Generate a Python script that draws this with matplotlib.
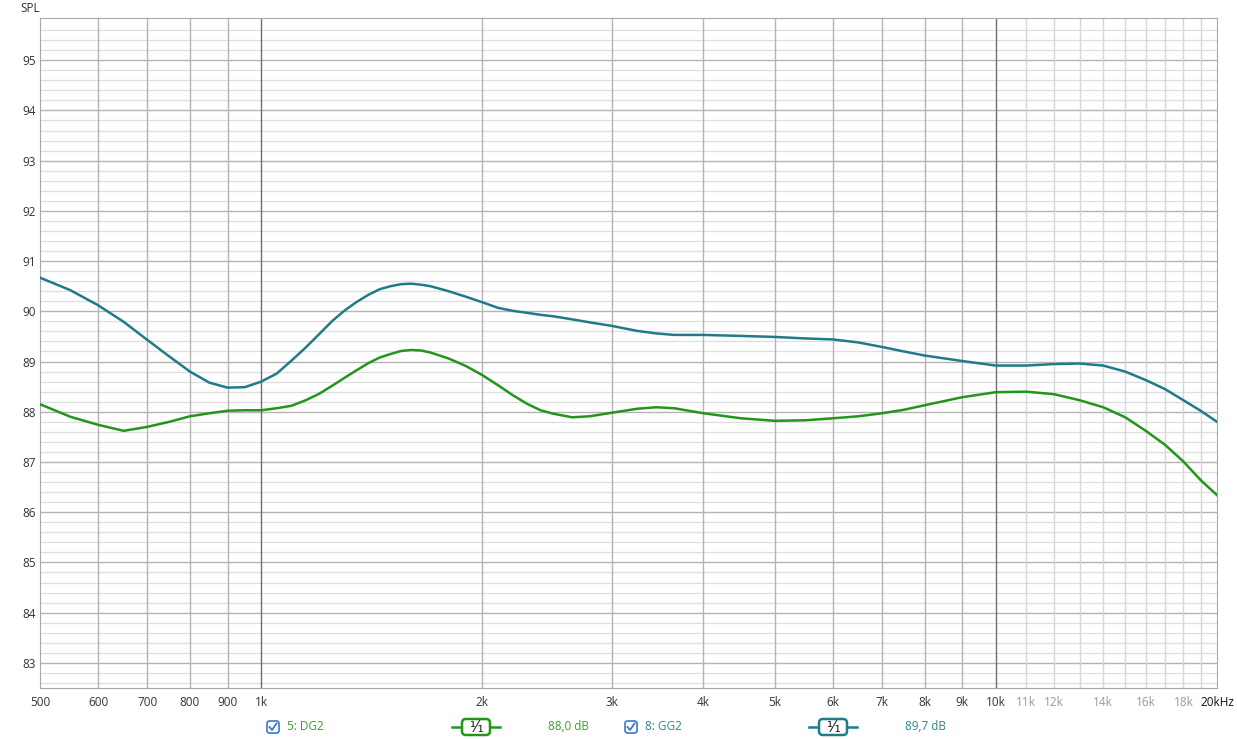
import matplotlib.pyplot as plt
from matplotlib.patches import FancyBboxPatch

plt.rcParams['font.family'] = ['Open Sans', 'DejaVu Sans']

# frequency (Hz) and SPL (dB)
freq = [500, 550, 600, 650, 700, 750, 800, 850, 900, 950,
        1000, 1050, 1100, 1150, 1200, 1250, 1300, 1350, 1400, 1450,
        1500, 1550, 1600, 1650, 1700, 1800, 1900, 2000, 2100, 2200,
        2300, 2400, 2500, 2650, 2800, 3000, 3250, 3450, 3650, 4000,
        4500, 5000, 5500, 6000, 6500, 7000, 7500, 8000, 9000, 10000,
        11000, 12000, 13000, 14000, 15000, 16000, 17000, 18000, 19000, 20000]
dg2 = [88.15, 87.90, 87.74, 87.62, 87.70, 87.80, 87.91, 87.97, 88.02, 88.03,
       88.03, 88.07, 88.12, 88.23, 88.36, 88.52, 88.68, 88.83, 88.97, 89.08,
       89.15, 89.21, 89.23, 89.22, 89.18, 89.06, 88.91, 88.73, 88.53, 88.33,
       88.16, 88.03, 87.96, 87.89, 87.91, 87.98, 88.06, 88.09, 88.07, 87.97,
       87.87, 87.82, 87.83, 87.87, 87.91, 87.97, 88.04, 88.13, 88.29, 88.39,
       88.40, 88.35, 88.23, 88.09, 87.89, 87.62, 87.34, 87.01, 86.64, 86.34]
gg2 = [90.67, 90.42, 90.12, 89.79, 89.43, 89.10, 88.80, 88.58, 88.48, 88.49,
       88.60, 88.76, 89.02, 89.28, 89.55, 89.81, 90.02, 90.19, 90.33, 90.44,
       90.50, 90.54, 90.55, 90.53, 90.50, 90.40, 90.29, 90.18, 90.07, 90.01,
       89.97, 89.93, 89.90, 89.84, 89.78, 89.71, 89.61, 89.56, 89.53, 89.53,
       89.51, 89.49, 89.46, 89.44, 89.38, 89.29, 89.20, 89.12, 89.01, 88.92,
       88.92, 88.95, 88.96, 88.92, 88.80, 88.63, 88.45, 88.23, 88.02, 87.80]

xtick_vals = [500, 600, 700, 800, 900, 1000, 2000, 3000, 4000, 5000, 6000, 7000,
              8000, 9000, 10000, 11000, 12000, 14000, 16000, 18000, 20000]
xtick_labels = ['500', '600', '700', '800', '900', '1k', '2k', '3k', '4k', '5k',
                '6k', '7k', '8k', '9k', '10k', '11k', '12k', '14k', '16k',
                '18k', '20kHz']
light_labels = ['11k', '12k', '14k', '16k', '18k']

green = '#23961a'
teal = '#1f7b88'
green_txt = '#3c9f2c'
teal_txt = '#2a8494'

W, H = 1237, 739
fig = plt.figure(figsize=(W / 100, H / 100), dpi=100)
ax = fig.add_axes([40 / W, 51 / H, 1177 / W, 670 / H])
ax.set_xscale('log')
ax.set_xlim(500, 20000)
ax.set_ylim(82.5, 95.84)

# grid
for v in range(83, 96):
    ax.axhline(v, color='#b4b4b4', lw=1.0, zorder=1)
for i in range(413, 479):
    v = i * 0.2
    if abs(v - round(v)) > 0.01:
        ax.axhline(v, color='#dedede', lw=0.9, zorder=0)
for f in [600, 700, 800, 900] + list(range(2000, 10000, 1000)):
    ax.axvline(f, color='#b4b4b4', lw=1.0, zorder=1)
for f in range(11000, 20000, 1000):
    ax.axvline(f, color='#d6d6d6', lw=1.0, zorder=1)
for f in [1000, 10000]:
    ax.axvline(f, color='#6e6e6e', lw=1.0, zorder=1)

ax.plot(freq, gg2, color=teal, lw=1.8, zorder=3)
ax.plot(freq, dg2, color=green, lw=1.8, zorder=3)

ax.set_xticks(xtick_vals, xtick_labels)
ax.xaxis.set_minor_locator(plt.NullLocator())
ax.set_yticks(range(83, 96))
ax.tick_params(length=0, labelsize=8.5, colors='#333333')
ax.tick_params(axis='x', pad=6)
ax.tick_params(axis='y', pad=3)
for lab in ax.get_xticklabels():
    if lab.get_text() in light_labels:
        lab.set_color('#9a9a9a')
    elif lab.get_text() == '20kHz':
        lab.set_color('#111111')
for s in ax.spines.values():
    s.set_color('#a8a8a8')

fig.text(20 / W, 1 - 8 / H, 'SPL', fontsize=8.5, color='#333333', va='center')

# legend row drawn in pixel coordinates
ov = fig.add_axes([0, 0, 1, 1])
ov.set_xlim(0, W)
ov.set_ylim(H, 0)
ov.axis('off')


def legend_entry(cb_x, name, icon_x, level, col, txtcol):
    y = 727
    ov.add_patch(FancyBboxPatch((cb_x - 6, y - 6), 12, 12,
                                boxstyle='round,pad=0,rounding_size=2.5',
                                ec='#3a78c4', fc='white', lw=1.2))
    ov.plot([cb_x - 3.5, cb_x - 1, cb_x + 3.5], [y, y + 3, y - 3.5],
            color='#3a78c4', lw=1.3)
    ov.text(cb_x + 14, y, name, color=txtcol, fontsize=8.5, va='center')
    ov.plot([icon_x - 24, icon_x + 24], [y, y], color=col, lw=1.8)
    ov.add_patch(FancyBboxPatch((icon_x - 14, y - 8), 28, 16,
                                boxstyle='round,pad=0,rounding_size=4',
                                ec=col, fc='white', lw=1.8, zorder=3))
    ov.text(icon_x, y, '\u00b9\u2044\u2081', color='#222222', fontsize=11,
            ha='center', va='center', zorder=4, family=['DejaVu Sans'])
    ov.text(icon_x + 72, y, level, color=txtcol, fontsize=8.5, va='center')


legend_entry(273, '5: DG2', 476, '88,0 dB', green, green_txt)
legend_entry(631, '8: GG2', 833, '89,7 dB', teal, teal_txt)

fig.savefig('out.png', dpi=100)
